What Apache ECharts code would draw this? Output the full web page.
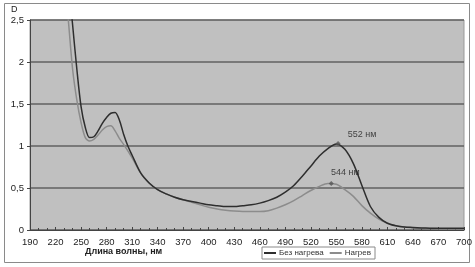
<!DOCTYPE html>
<html>
<head>
<meta charset="utf-8">
<script src="https://cdn.jsdelivr.net/npm/echarts@6/dist/echarts.min.js"></script>
<style>
  html, body { margin: 0; padding: 0; background: #fff; }
  #chart { width: 475px; height: 267px; }
</style>
</head>
<body>
<div id="chart"></div>
<script>
// длины волн и оптическая плотность
const wlDark = [235, 240, 245, 250, 255, 260, 265, 270, 275, 280, 285, 290, 295, 300, 305, 310, 320, 330, 340, 350, 360, 370, 380, 390, 400, 410, 420, 430, 440, 450, 460, 470, 480, 490, 500, 510, 520, 530, 540, 550, 560, 570, 580, 590, 600, 610, 620, 630, 640, 650, 660, 670, 680, 690, 700]
const valDark = [3.0, 2.45, 1.92, 1.47, 1.22, 1.10, 1.11, 1.18, 1.27, 1.34, 1.39, 1.40, 1.31, 1.14, 1.00, 0.89, 0.68, 0.56, 0.48, 0.43, 0.39, 0.36, 0.34, 0.32, 0.30, 0.29, 0.28, 0.28, 0.29, 0.30, 0.32, 0.35, 0.39, 0.45, 0.53, 0.64, 0.76, 0.88, 0.97, 1.025, 0.96, 0.79, 0.53, 0.28, 0.15, 0.08, 0.05, 0.035, 0.03, 0.025, 0.022, 0.02, 0.02, 0.02, 0.02]

const wlLight = [230, 235, 240, 245, 250, 255, 260, 265, 270, 275, 280, 285, 290, 295, 300, 310, 320, 330, 340, 350, 360, 370, 380, 390, 400, 410, 420, 430, 440, 450, 460, 470, 480, 490, 500, 510, 520, 530, 540, 550, 560, 570, 580, 590, 600, 610, 620, 630, 640, 650, 660, 670, 680, 690, 700]
const valLight = [3.0, 2.5, 1.92, 1.55, 1.28, 1.10, 1.06, 1.08, 1.13, 1.19, 1.23, 1.24, 1.18, 1.09, 1.02, 0.86, 0.68, 0.56, 0.48, 0.43, 0.39, 0.36, 0.33, 0.30, 0.27, 0.25, 0.235, 0.225, 0.22, 0.22, 0.22, 0.23, 0.26, 0.30, 0.35, 0.41, 0.47, 0.52, 0.553, 0.545, 0.48, 0.40, 0.29, 0.20, 0.13, 0.08, 0.05, 0.035, 0.025, 0.02, 0.018, 0.015, 0.015, 0.015, 0.015]

// пики
const peakWl = [552, 544]
const peakVal = [1.03, 0.555]
const peakLabels = ['552 нм', '544 нм']

const seriesNames = ['Без нагрева', 'Нагрев']

const chart = echarts.init(document.getElementById('chart'))

const font = 'Liberation Sans, Arial, sans-serif'

const option = {
  animation: false,
  backgroundColor: '#fff',
  textStyle: { fontFamily: font },
  grid: {
    left: 30,
    right: 11,
    top: 20,
    bottom: 37,
    show: true,
    backgroundColor: '#c0c0c0',
    borderColor: '#9a9a9a',
    borderWidth: 1,
  },
  legend: {
    data: seriesNames,
    left: 262,
    top: 247,
    itemWidth: 12,
    itemHeight: 2,
    itemGap: 6,
    icon: 'rect',
    padding: [2, 4, 2, 2],
    borderColor: '#8a8a8a',
    borderWidth: 1,
    textStyle: { fontSize: 8, color: '#333', padding: [0, 0, 0, -2] },
  },
  xAxis: {
    type: 'value',
    min: 190,
    max: 700,
    interval: 30,
    axisLine: { show: true, onZero: false, lineStyle: { color: '#444', width: 1 } },
    axisTick: { show: true, inside: true, length: 3, lineStyle: { color: '#444' } },
    minorTick: { show: true, splitNumber: 3, length: 2, lineStyle: { color: '#444' } },
    splitLine: { show: false },
    axisLabel: { color: '#222', fontSize: 9.5, margin: 7, fontFamily: font },
  },
  yAxis: {
    type: 'value',
    min: 0,
    max: 2.5,
    interval: 0.5,
    axisLine: { show: true, lineStyle: { color: '#444', width: 1 } },
    axisTick: { show: true, length: 3, lineStyle: { color: '#444' } },
    splitLine: { show: true, lineStyle: { color: '#626262', width: 1.5 } },
    axisLabel: {
      color: '#222',
      fontSize: 9.5,
      margin: 6,
      fontFamily: font,
      formatter: (v) => String(v).replace('.', ','),
    },
  },
  graphic: [
    {
      type: 'rect',
      shape: { x: 4.5, y: 3.5, width: 465, height: 259 },
      style: { fill: 'none', stroke: '#8a8a8a', lineWidth: 1 },
      z: -1,
    },
    {
      type: 'text',
      left: 11,
      top: 5,
      style: { text: 'D', fontSize: 9, fill: '#222', fontFamily: font },
    },
    {
      type: 'text',
      left: 85,
      top: 247,
      style: { text: 'Длина волны, нм', fontSize: 9, fontWeight: 'bold', fill: '#222', fontFamily: font },
    },
  ],
  series: [
    {
      name: seriesNames[0],
      type: 'line',
      data: wlDark.map((w, i) => [w, valDark[i]]),
      showSymbol: false,
      smooth: 0.3,
      clip: true,
      lineStyle: { color: '#2e2e2e', width: 1.5 },
      itemStyle: { color: '#2e2e2e' },
      z: 3,
    },
    {
      name: seriesNames[1],
      type: 'line',
      data: wlLight.map((w, i) => [w, valLight[i]]),
      showSymbol: false,
      smooth: 0.3,
      clip: true,
      lineStyle: { color: '#8c8c8c', width: 1.5 },
      itemStyle: { color: '#8c8c8c' },
      z: 2,
    },
    {
      name: 'peaks',
      type: 'scatter',
      data: peakWl.map((w, i) => ({
        value: [w, peakVal[i]],
        label: {
          show: true,
          formatter: peakLabels[i],
          position: 'top',
          offset: i === 0 ? [24, 3] : [14, 1],
        },
      })),
      symbol: 'diamond',
      symbolSize: 5,
      itemStyle: { color: '#555' },
      label: { color: '#222', fontSize: 9, fontFamily: font },
      z: 4,
    },
  ],
}

chart.setOption(option)
</script>
</body>
</html>
